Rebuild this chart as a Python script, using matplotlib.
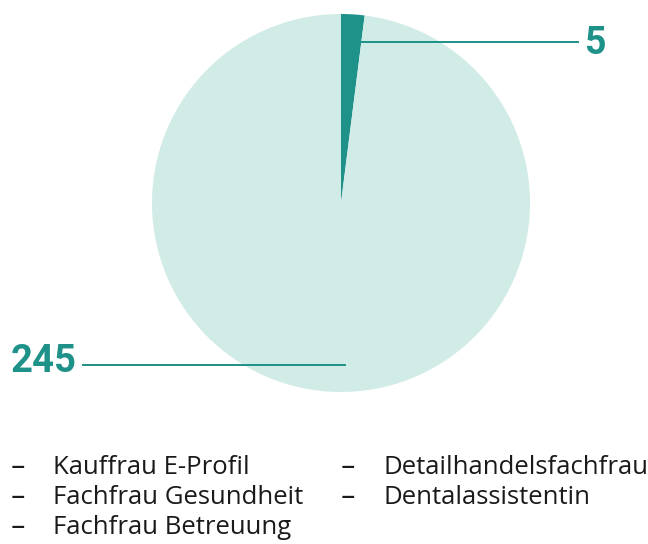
import matplotlib
matplotlib.use("Agg")
import matplotlib.pyplot as plt

values = [5, 245]
value_labels = ["5", "245"]
colors = ["#1E9189", "#D1EBE7"]
legend_items = ["Kauffrau E-Profil", "Fachfrau Gesundheit", "Fachfrau Betreuung",
                "Detailhandelsfachfrau", "Dentalassistentin"]

W, H = 648, 544
fig = plt.figure(figsize=(W / 100, H / 100), dpi=100)
cx, cy, r = 341, 203, 189
ax = fig.add_axes([(cx - r) / W, (H - cy - r) / H, 2 * r / W, 2 * r / H])
ax.pie(values, colors=colors, startangle=90, counterclock=False, radius=1,
       wedgeprops=dict(linewidth=0))
ax.set_xlim(-1, 1)
ax.set_ylim(-1, 1)
ax.set_aspect("equal")
ax.axis("off")

def d(px, py):
    return (px - cx) / r, (cy - py) / r

teal = "#1E9189"
# label 5
x0, y0 = d(362, 42); x1, _ = d(578, 42)
ax.plot([x0, x1], [y0, y0], color=teal, lw=1.4, clip_on=False)
tx, ty = d(584, 44)
ax.text(tx, ty, value_labels[0], color=teal, fontsize=27, fontweight="bold",
        ha="left", va="center", family="Roboto")
# label 245
x0, y0 = d(345, 365); x1, _ = d(83, 365)
ax.plot([x0, x1], [y0, y0], color=teal, lw=1.4, clip_on=False)
tx, ty = d(77, 362)
ax.text(tx, ty, value_labels[1], color=teal, fontsize=27.5, fontweight="bold",
        ha="right", va="center", family="Roboto")

# legend
col_x = [(11, 53), (341, 384)]
row_y = [468, 498, 528]
pos = [(0, 0), (0, 1), (0, 2), (1, 0), (1, 1)]
for name, (c, rr) in zip(legend_items, pos):
    dx, tx = col_x[c]
    y = 1 - row_y[rr] / H
    fig.text(dx / W, y + 0.002, "–", fontsize=21, color="#1a1a1a", va="center", ha="left",
             family="DejaVu Sans")
    fig.text(tx / W, y, name, fontsize=18.5, color="#1a1a1a", va="center", ha="left",
             family="Open Sans")

fig.savefig("out.png", dpi=100)
